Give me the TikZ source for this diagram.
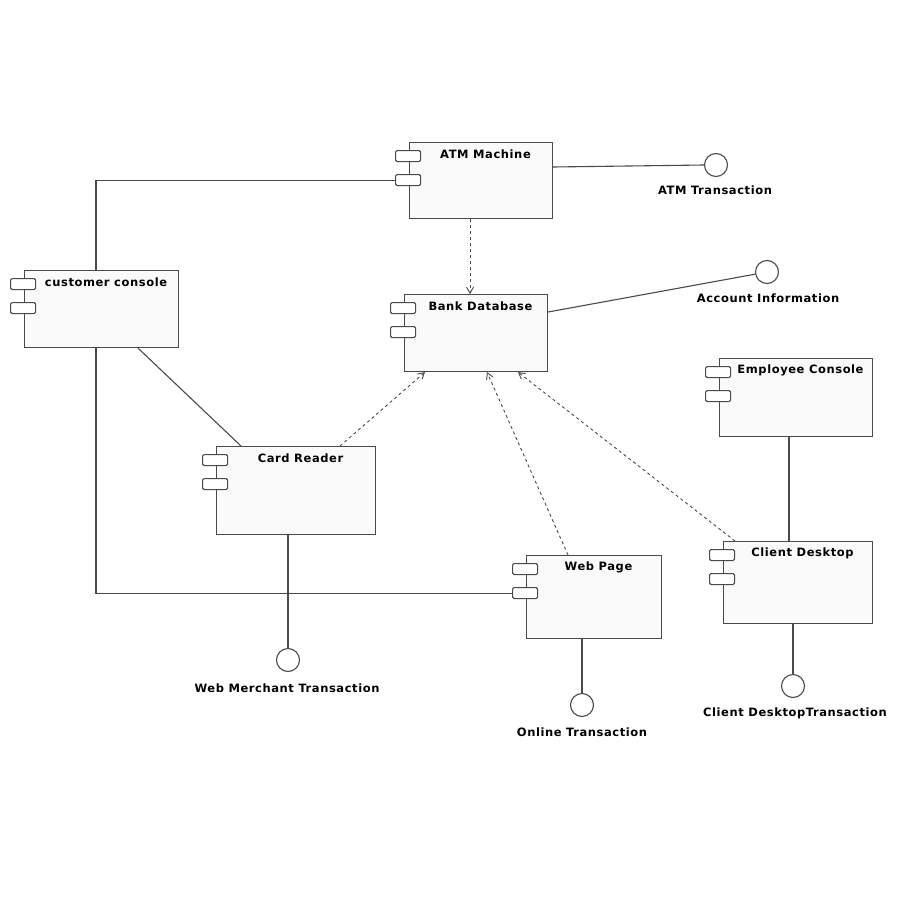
\documentclass[tikz,border=0pt]{standalone}
\usepackage{fontspec}
\newfontfamily\umlfont[LetterSpace=5]{DejaVu Sans}
\usetikzlibrary{arrows.meta}
\definecolor{umlline}{HTML}{4A4A4A}
\definecolor{umlfill}{HTML}{FAFAFA}
\tikzset{
  compbox/.style={draw=umlline, fill=umlfill, line width=1.1pt, inner sep=0pt},
  portbox/.style={draw=umlline, fill=white, line width=1.1pt, inner sep=0pt,
    minimum width=25pt, minimum height=11pt, rounded corners=1.5pt, anchor=north west},
  comptitle/.style={font=\umlfont\bfseries\fontsize{11.5}{12}\selectfont, inner sep=0pt},
  iface/.style={circle, draw=umlline, fill=white, line width=1.1pt,
    minimum size=23pt, inner sep=0pt},
  ifacelabel/.style={font=\umlfont\bfseries\fontsize{11.5}{12}\selectfont, inner sep=0pt},
  link/.style={draw=umlline, line width=1.1pt},
  depend/.style={draw=umlline, line width=0.9pt, dashed, dash pattern=on 3pt off 3pt,
    -{Straight Barb[length=6pt, width=7pt]}},
}
% a UML component: name, left, top, right, bottom, title
\newcommand\umlcomp[6]{%
  \node[compbox, anchor=north west, minimum width={#4-#2}, minimum height={#5-#3}]
    (#1) at (#2,#3) {};
  \node[portbox] (#1-p1) at ({#2-14},{#3+8}) {};
  \node[portbox] (#1-p2) at ({#2-14},{#3+32}) {};
  \node[comptitle] (#1-t) at ({(#2+#4)/2+5},{#3+12}) {#6};
}
\begin{document}
\begin{tikzpicture}[x=1pt, y=-1pt]
\useasboundingbox[fill=white] (0,0) rectangle (900,900);

% components
\umlcomp{atm}{409}{142}{552}{218}{ATM Machine}
\umlcomp{cc}{24}{270}{178}{347}{customer console}
\umlcomp{bank}{404}{294}{547}{371}{Bank Database}
\umlcomp{cr}{216}{446}{375}{534}{Card Reader}
\umlcomp{wp}{526}{555}{661}{638}{Web Page}
\umlcomp{ec}{719}{358}{872}{436}{Employee Console}
\umlcomp{cd}{723}{541}{872}{623}{Client Desktop}

% provided interfaces
\node[iface] (atmT) at (716,165) {};
\node[ifacelabel] (atmT-l) at (715,190) {ATM Transaction};
\node[iface] (acct) at (767,272) {};
\node[ifacelabel] (acct-l) at (768,298) {Account Information};
\node[iface] (webT) at (288,660) {};
\node[ifacelabel] (webT-l) at (287,688) {Web Merchant Transaction};
\node[iface] (onT) at (582,705) {};
\node[ifacelabel] (onT-l) at (582,732) {Online Transaction};
\node[iface] (cdT) at (793,686) {};
\node[ifacelabel] (cdT-l) at (795,713) {Client DesktopTransaction};

% associations
\draw[link] ([xshift=72pt]cc.north west) |- (atm-p2.west);
\draw[link] ([xshift=72pt]cc.south west) |- (wp-p2.west);
\draw[link] ([xshift=114pt]cc.south west) -- ([xshift=25pt]cr.north west);
\draw[link] ([yshift=-25pt]atm.north east) -- (atmT.west);
\draw[link] ([yshift=-18pt]bank.north east) -- (acct);
\draw[link] ([xshift=72pt]cr.south west) -- (webT);
\draw[link] ([xshift=56pt]wp.south west) -- (onT);
\draw[link] ([xshift=70pt]ec.south west) -- ([xshift=66pt]cd.north west);
\draw[link] ([xshift=70pt]cd.south west) -- (cdT);

% dependencies on the bank database
\draw[depend] ([xshift=61pt]atm.south west) -- ([xshift=66pt]bank.north west);
\draw[depend] ([xshift=124pt]cr.north west) -- ([xshift=21pt]bank.south west);
\draw[depend] ([xshift=42pt]wp.north west) -- ([xshift=83pt]bank.south west);
\draw[depend] ([xshift=12pt]cd.north west) -- ([xshift=114pt]bank.south west);
\end{tikzpicture}
\end{document}
